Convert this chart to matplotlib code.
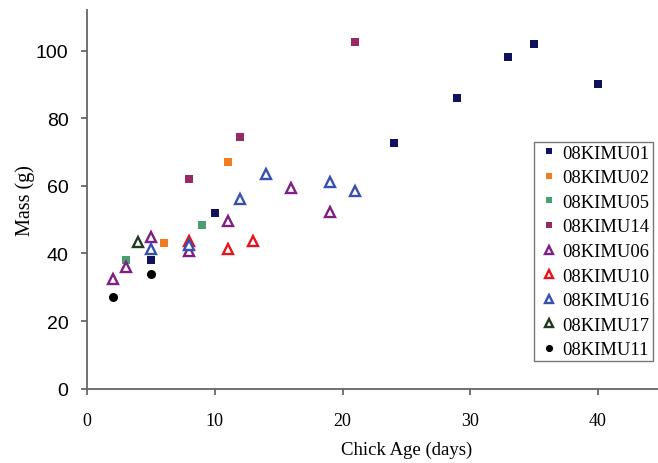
import matplotlib
matplotlib.use("Agg")
import matplotlib.pyplot as plt

# chick age (days) and mass (g) per chick
SERIES = ["08KIMU01", "08KIMU02", "08KIMU05", "08KIMU14",
          "08KIMU06", "08KIMU10", "08KIMU16", "08KIMU17", "08KIMU11"]

age_01 = [5, 10, 24, 29, 33, 35, 40]
mass_01 = [38, 52, 72.6, 86, 98, 102, 90]
age_02 = [6, 11]
mass_02 = [43, 67]
age_05 = [3, 9]
mass_05 = [38, 48.5]
age_14 = [8, 12, 21]
mass_14 = [62, 74.5, 102.5]
age_06 = [2, 3, 5, 8, 11, 16, 19]
mass_06 = [32.5, 36, 45, 40.6, 49.5, 59.5, 52.2]
age_10 = [8, 11, 13]
mass_10 = [43.6, 41.4, 43.6]
age_16 = [5, 8, 12, 14, 19, 21]
mass_16 = [41.3, 42.4, 56, 63.4, 61, 58.4]
age_17 = [4]
mass_17 = [43.5]
age_11 = [2, 5]
mass_11 = [27, 34]

SERIF = "Liberation Serif"
SANS = "Liberation Sans"

fig = plt.figure(figsize=(6.58, 4.64), dpi=100)
ax = fig.add_axes([87.3 / 658, 1 - 389.7 / 464, 50 * 12.76 / 658, 378.7 / 464])

sq = dict(linestyle="none", marker="s", markersize=5.8, markeredgewidth=0)
tri = dict(linestyle="none", marker="^", markersize=7.2, markeredgewidth=1.7,
           markerfacecolor="white")

ax.plot(age_01, mass_01, color="#10125e", label=SERIES[0], **sq)
ax.plot(age_02, mass_02, color="#f07d22", label=SERIES[1], **sq)
ax.plot(age_05, mass_05, color="#4a9e72", label=SERIES[2], **sq)
ax.plot(age_14, mass_14, color="#972a60", label=SERIES[3], **sq)
ax.plot(age_06, mass_06, markeredgecolor="#7d1f86", label=SERIES[4], **tri)
ax.plot(age_10, mass_10, markeredgecolor="#e3161c", label=SERIES[5], **tri)
ax.plot(age_16, mass_16, markeredgecolor="#3650b0", label=SERIES[6], **tri)
ax.plot(age_17, mass_17, markeredgecolor="#1f3a1f", label=SERIES[7], **tri)
ax.plot(age_11, mass_11, linestyle="none", marker="o", markersize=5.5,
        color="black", label=SERIES[8])

ax.set_xlim(0, 50)
ax.set_ylim(0, 112)
ax.set_xticks([0, 10, 20, 30, 40])
ax.set_yticks([0, 20, 40, 60, 80, 100])

for s in ("top", "right"):
    ax.spines[s].set_visible(False)
for s in ("left", "bottom"):
    ax.spines[s].set_color("#666666")
    ax.spines[s].set_linewidth(1.3)
ax.tick_params(direction="out", length=4.5, width=1.3, color="#666666")
for lab in ax.get_xticklabels():
    lab.set_fontfamily(SERIF)
    lab.set_fontsize(13)
for lab in ax.get_yticklabels():
    lab.set_fontfamily(SANS)
    lab.set_fontsize(14)
ax.tick_params(axis="x", pad=12)
ax.tick_params(axis="y", pad=9)

ax.set_xlabel("Chick Age (days)", fontfamily=SERIF, fontsize=13.5, labelpad=9)
ax.set_ylabel("Mass (g)", fontfamily=SERIF, fontsize=14.5, labelpad=1)

leg = ax.legend(loc="upper left", bbox_to_anchor=(534 / 658, 1 - 143 / 464),
                bbox_transform=fig.transFigure, prop={"family": SERIF, "size": 13.3},
                frameon=True, fancybox=False, framealpha=1, edgecolor="#777777",
                handlelength=1.3, handletextpad=0.1, labelspacing=0.41,
                borderpad=0.15, borderaxespad=0, markerscale=0.75)
leg.get_frame().set_linewidth(1.0)

fig.savefig("out.png", dpi=100)
